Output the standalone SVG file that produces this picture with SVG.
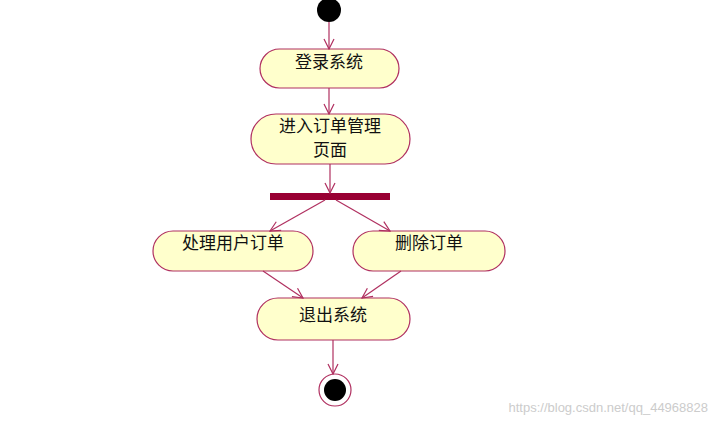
<svg xmlns="http://www.w3.org/2000/svg" width="719" height="424" viewBox="0 0 719 424">
<style>
.n{fill:#ffffcc;stroke:#b03060;stroke-width:1.2}
.t{font-family:"Noto Sans CJK SC",sans-serif;font-size:17px;fill:#111;text-anchor:middle}
.c{stroke:#b03060;stroke-width:1.2;fill:none}
</style>
<defs><marker id="a" markerWidth="12" markerHeight="12" refX="11" refY="6" orient="auto" markerUnits="userSpaceOnUse"><path d="M1,1 L11,6 L1,11" fill="none" stroke="#b03060" stroke-width="1.2"/></marker></defs>
<rect width="719" height="424" fill="#fff"/>
<g id="start"><circle cx="329" cy="10" r="12" fill="#000"/></g>
<g id="n1"><rect class="n" x="260" y="49" width="139" height="39" rx="19.5"/><text class="t" x="329" y="68">登录系统</text></g>
<g id="n2"><rect class="n" x="251" y="114" width="159" height="50" rx="25"/><text class="t" x="330" y="132">进入订单管理</text><text class="t" x="330" y="156">页面</text></g>
<g id="fork"><rect x="270" y="193" width="120" height="7" fill="#990033"/></g>
<g id="n3"><rect class="n" x="153" y="231" width="160" height="40" rx="20"/><text class="t" x="233" y="249">处理用户订单</text></g>
<g id="n4"><rect class="n" x="353" y="231" width="152" height="40" rx="20"/><text class="t" x="429" y="249">删除订单</text></g>
<g id="n5"><rect class="n" x="257" y="298" width="153" height="42" rx="21"/><text class="t" x="333" y="321">退出系统</text></g>
<g id="end"><circle cx="335" cy="390" r="16" fill="#fff" stroke="#b03060" stroke-width="1.2"/><circle cx="335" cy="390" r="11" fill="#000"/></g>
<g id="edges" class="c">
<line x1="329" y1="22" x2="329" y2="49" marker-end="url(#a)"/>
<line x1="329" y1="88" x2="329" y2="114" marker-end="url(#a)"/>
<line x1="330" y1="164" x2="330" y2="193" marker-end="url(#a)"/>
<line x1="325" y1="200" x2="270" y2="231" marker-end="url(#a)"/>
<line x1="336" y1="200" x2="390" y2="231" marker-end="url(#a)"/>
<line x1="263" y1="271" x2="303" y2="298" marker-end="url(#a)"/>
<line x1="401" y1="271" x2="362" y2="298" marker-end="url(#a)"/>
<line x1="333" y1="340" x2="333" y2="374" marker-end="url(#a)"/>
</g>
<text x="708" y="412" font-family="Liberation Sans,sans-serif" font-size="13" fill="#ccc" text-anchor="end">https://blog.csdn.net/qq_44968828</text>
</svg>
